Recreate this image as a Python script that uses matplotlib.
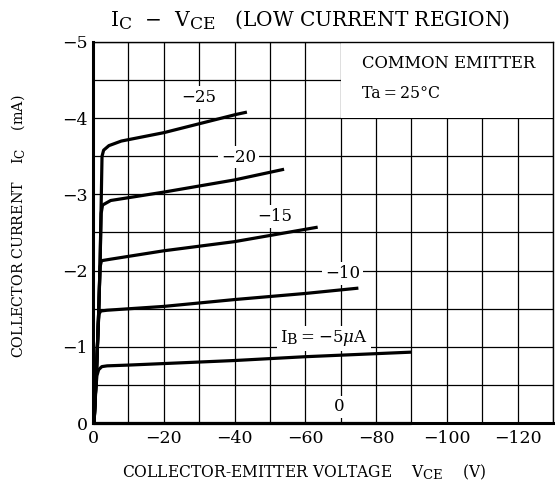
import matplotlib
matplotlib.use("Agg")
import matplotlib.pyplot as plt
from matplotlib.patches import Rectangle
try:
    import matplotlib._mathtext as _mt
    _mt.SHRINK_FACTOR = 0.85
except Exception:
    pass

plt.rcParams['font.family'] = ['DejaVu Serif']
plt.rcParams['mathtext.fontset'] = 'dejavuserif'

# ---- data ----
vce_ib0 = [0, -90]
ic_ib0 = [0, 0]

vce_ib5 = [-0.3, -0.8, -1.1, -1.6, -2.5, -4, -10, -20, -40, -60, -90]
ic_ib5 = [0, -0.45, -0.62, -0.70, -0.74, -0.75, -0.76, -0.78, -0.82, -0.87, -0.93]

vce_ib10 = [-0.3, -1.0, -1.5, -1.7, -2.2, -4, -20, -40, -60, -75]
ic_ib10 = [0, -0.70, -1.30, -1.43, -1.47, -1.48, -1.53, -1.62, -1.70, -1.77]

vce_ib15 = [-0.3, -1.0, -1.6, -2.0, -2.4, -5, -20, -40, -63.5]
ic_ib15 = [0, -0.70, -1.45, -2.05, -2.13, -2.15, -2.26, -2.38, -2.57]

vce_ib20 = [-0.3, -1.0, -1.6, -2.0, -2.3, -2.7, -5, -20, -40, -54]
ic_ib20 = [0, -0.70, -1.45, -2.10, -2.75, -2.86, -2.92, -3.03, -3.19, -3.33]

vce_ib25 = [-0.3, -1.0, -1.6, -2.0, -2.3, -2.55, -3.0, -4.5, -8, -20, -40.5, -43.5]
ic_ib25 = [0, -0.70, -1.45, -2.10, -2.85, -3.50, -3.58, -3.64, -3.70, -3.81, -4.05, -4.08]

curve_labels = ["0", r"$\mathrm{I_B}$" + "\u2009=\u2009\u22125" + r"$\mu$A",
                "\u221210", "\u221215", "\u221220", "\u221225"]

x_ticks = [0, -20, -40, -60, -80, -100, -120]
x_ticklabels = ["0", "\u221220", "\u221240", "\u221260", "\u221280", "\u2212100", "\u2212120"]
y_ticks = [0, -1, -2, -3, -4, -5]
y_ticklabels = ["0", "\u22121", "\u22122", "\u22123", "\u22124", "\u22125"]

# ---- figure ----
fig = plt.figure(figsize=(5.55, 4.94), dpi=100)
ax = fig.add_axes([93 / 555, 1 - 423 / 494, 460 / 555, 381 / 494])
ax.set_xlim(0, -130)
ax.set_ylim(0, -5)
ax.set_axisbelow(True)

ax.set_xticks([v for v in range(0, -131, -10)], minor=True)
ax.set_yticks([i * -0.5 for i in range(11)], minor=True)
ax.set_xticks(x_ticks)
ax.set_xticklabels(x_ticklabels)
ax.set_yticks(y_ticks)
ax.set_yticklabels(y_ticklabels)
ax.tick_params(which='both', length=0, labelsize=12.5, colors='black')
ax.tick_params(axis='x', pad=5)
ax.tick_params(axis='y', pad=4)
ax.grid(which='both', color='black', linewidth=0.9)

for s in ['left', 'bottom']:
    ax.spines[s].set_linewidth(2.2)
for s in ['top', 'right']:
    ax.spines[s].set_linewidth(1.0)

# white panel for the legend text (hides grid)
ax.add_patch(Rectangle((-70, -4), -60, -1, facecolor='white', edgecolor='none', zorder=1))
ax.text(-76, -4.72, "COMMON EMITTER", fontsize=11.8, va='center', ha='left', zorder=4)
ax.text(-76, -4.33, "Ta\u2009=\u200925°C", fontsize=11.3, va='center', ha='left', zorder=4)

curves = [(vce_ib0, ic_ib0), (vce_ib5, ic_ib5), (vce_ib10, ic_ib10),
          (vce_ib15, ic_ib15), (vce_ib20, ic_ib20), (vce_ib25, ic_ib25)]
for v, i in curves:
    ax.plot(v, i, color='black', linewidth=2.3, solid_joinstyle='round',
            solid_capstyle='butt', zorder=3, clip_on=False)

label_pos = [(-69.7, -0.21), (-65.3, -1.11), (-70.6, -1.96), (-51.5, -2.71), (-41.2, -3.49), (-29.9, -4.27)]
for txt, (x, y) in zip(curve_labels, label_pos):
    ax.text(x, y, txt, fontsize=12, ha='center', va='center', zorder=2,
            bbox=dict(facecolor='white', edgecolor='none', pad=2))

fig.text(310 / 555, 1 - 20 / 494,
         r"$\mathrm{I_C}$  $-$  $\mathrm{V_{CE}}$   (LOW CURRENT REGION)",
         fontsize=14.5, ha='center', va='center')
fig.text(304 / 555, 1 - 472 / 494,
         r"COLLECTOR-EMITTER VOLTAGE    $\mathrm{V_{CE}}$    (V)",
         fontsize=11.2, ha='center', va='center')
fig.text(18 / 555, 1 - 226 / 494,
         r"COLLECTOR CURRENT    $\mathrm{I_C}$    (mA)",
         fontsize=10.3, ha='center', va='center', rotation=90)

fig.savefig("out.png", dpi=100)
